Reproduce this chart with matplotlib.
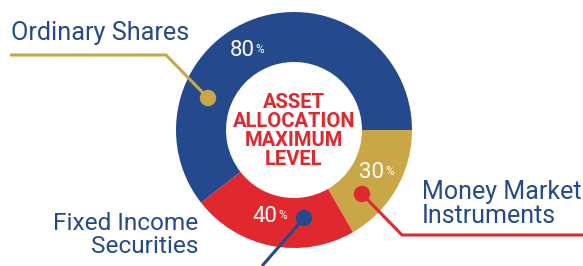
import matplotlib.pyplot as plt
from matplotlib.patches import Circle

# slices, clockwise from 3 o'clock
categories = ['Money Market\nInstruments', 'Fixed Income\nSecurities', 'Ordinary Shares']
max_levels = [30, 40, 80]          # printed percentages
slice_deg = [60, 82, 218]          # angular share as drawn in the picture
colors = ['#c9a747', '#e2282f', '#244a8d']
leader_colors = ['#e2282f', '#244a8d', '#c9a747']
center_title = 'ASSET\nALLOCATION\nMAXIMUM\nLEVEL'

BLUE_TXT = '#244a8d'
H = 266

fig = plt.figure(figsize=(5.83, 2.66), dpi=100)
ax = fig.add_axes([0, 0, 1, 1])

cx, cy = 294, H - 130
ax.pie(slice_deg, colors=colors, startangle=0, counterclock=False,
       radius=118, center=(cx, cy), wedgeprops=dict(width=50, linewidth=0))
ax.set_xlim(0, 583)
ax.set_ylim(0, H)
ax.set_aspect('equal')
ax.axis('off')

# centre title
ax.text(cx, H - 131, center_title, ha='center', va='center', color='#e2282f',
        fontsize=14.5, fontweight='bold', family='Roboto', linespacing=1.02)

# percentage labels (number + small %)
pct_pos = [(372, 172), (265, 216), (242, 50)]
for val, (x, y) in zip(max_levels, pct_pos):
    ax.text(x, H - y, str(val), ha='center', va='center', color='white',
            fontsize=16, family='Roboto')
    ax.text(x + 13, H - y + 0.5, '%', ha='left', va='center', color='white',
            fontsize=8.5, family='Roboto')

# leader lines with dots
leaders = [
    [(362, 194), (402, 235), (583, 235)],
    [(304, 218), (262, 266)],
    [(208, 98), (166, 55), (10, 55)],
]
for pts, col in zip(leaders, leader_colors):
    xs = [p[0] for p in pts]
    ys = [H - p[1] for p in pts]
    ax.plot(xs, ys, color=col, lw=2.2, solid_capstyle='butt', zorder=3)
    ax.add_patch(Circle((xs[0], ys[0]), 7.5, color=col, zorder=4))

# category labels
ax.text(11, H - 40, categories[2], ha='left', va='baseline', color=BLUE_TXT,
        fontsize=18.2, family='Roboto')
ax.text(422, H - 223, categories[0], ha='left', va='baseline', color=BLUE_TXT,
        fontsize=18, family='Roboto', linespacing=1.0)
ax.text(198, H - 253, categories[1], ha='right', va='baseline', color=BLUE_TXT,
        fontsize=17.6, family='Roboto', linespacing=1.0, multialignment='right')

fig.savefig('out.png', dpi=100)
